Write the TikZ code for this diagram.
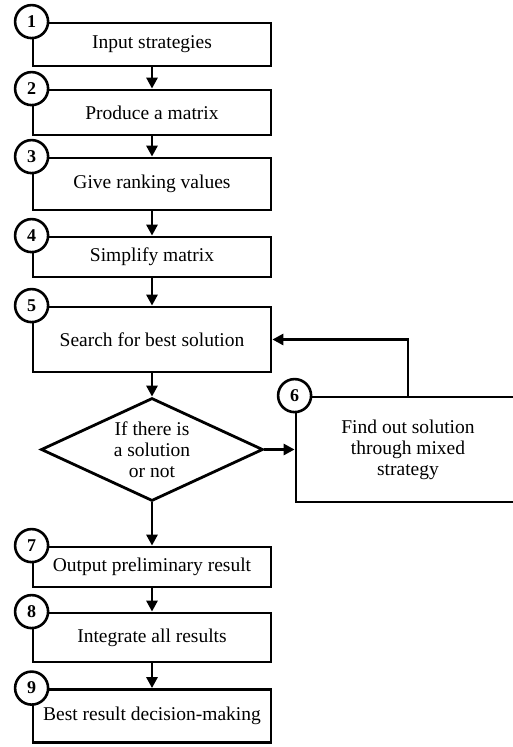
\documentclass[tikz,border=0pt]{standalone}
\usepackage{fontspec}
\setmainfont{Liberation Serif}
\usetikzlibrary{arrows.meta,shapes.geometric}

\tikzset{
  stepbox/.style={draw, line width=2.8pt, minimum width=238pt, inner sep=0pt,
    font=\fontsize{19.5}{21}\selectfont, align=center},
  numcircle/.style={circle, draw, fill=white, line width=2.6pt, minimum size=33pt,
    inner sep=0pt, font=\fontsize{18}{18}\selectfont\bfseries},
  decision/.style={diamond, draw, line width=2.8pt, minimum width=222pt,
    minimum height=103pt, aspect=2.15, inner sep=0pt,
    font=\fontsize{19.5}{21}\selectfont, align=center},
  flow/.style={line width=2.8pt, -{Triangle[length=11pt,width=11pt]}}
}

\begin{document}
\begin{tikzpicture}[x=1pt,y=-1pt]
  \path[use as bounding box] (0,0) rectangle (513,747);
  \clip (0,0) rectangle (513,747);

  % main column of steps
  \node[stepbox, minimum height=43pt] (b1) at (152,44.5) {Input strategies};
  \node[stepbox, minimum height=45pt] (b2) at (152,112.5) {Produce a matrix};
  \node[stepbox, minimum height=52pt] (b3) at (152,184) {Give ranking values};
  \node[stepbox, minimum height=40pt] (b4) at (152,257) {Simplify matrix};
  \node[stepbox, minimum height=65pt] (b5) at (152,339.5) {Search for best solution};
  \node[decision] (d) at (152,449.5) {If there is\\a solution\\or not};
  \node[stepbox, minimum width=224pt, minimum height=105pt] (b6) at (408,449.5)
    {Find out solution\\through mixed\\strategy};
  \node[stepbox, minimum height=40pt] (b7) at (152,567) {Output preliminary result};
  \node[stepbox, minimum height=49pt] (b8) at (152,637.5) {Integrate all results};
  \node[stepbox, minimum height=53pt] (b9) at (152,716) {Best result decision-making};

  % connectors
  \draw[flow] (b1.south) -- (b2.north);
  \draw[flow] (b2.south) -- (b3.north);
  \draw[flow] (b3.south) -- (b4.north);
  \draw[flow] (b4.south) -- (b5.north);
  \draw[flow] (b5.south) -- (d.north);
  \draw[flow] (d.east) -- (b6.west);
  \draw[flow] (b6.north) |- (b5.east);
  \draw[flow] (d.south) -- (b7.north);
  \draw[flow] (b7.south) -- (b8.north);
  \draw[flow] (b8.south) -- (b9.north);

  % step numbers
  \node[numcircle] (c1) at (b1.north west) {1};
  \node[numcircle] (c2) at (b2.north west) {2};
  \node[numcircle] (c3) at (b3.north west) {3};
  \node[numcircle] (c4) at (b4.north west) {4};
  \node[numcircle] (c5) at (b5.north west) {5};
  \node[numcircle] (c6) at (b6.north west) {6};
  \node[numcircle] (c7) at (b7.north west) {7};
  \node[numcircle] (c8) at (b8.north west) {8};
  \node[numcircle] (c9) at (b9.north west) {9};
\end{tikzpicture}
\end{document}
